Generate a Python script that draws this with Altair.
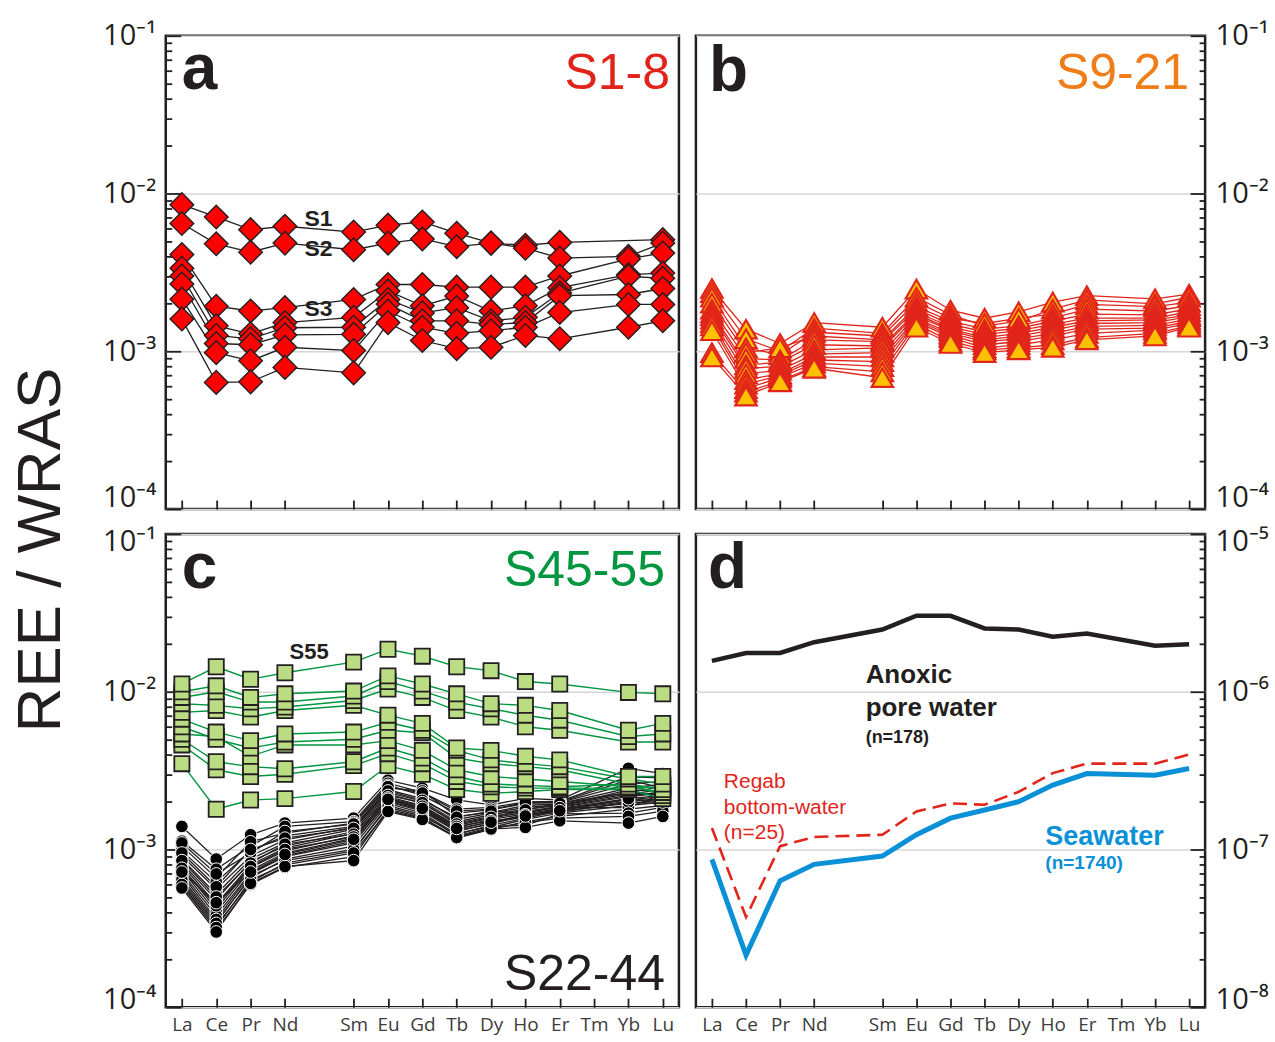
import altair as alt
import pandas as pd

# ---------------- categories ----------------
X_DOMAIN = ["La", "Ce", "Pr", "Nd", "Pm", "Sm", "Eu", "Gd", "Tb", "Dy", "Ho", "Er", "Tm", "Yb", "Lu"]
X_LABELS = ["La", "Ce", "Pr", "Nd", "Sm", "Eu", "Gd", "Tb", "Dy", "Ho", "Er", "Tm", "Yb", "Lu"]
REE = ["La", "Ce", "Pr", "Nd", "Sm", "Eu", "Gd", "Tb", "Dy", "Ho", "Er", "Yb", "Lu"]

# ---------------- panel a : S1-8 (values x 1e-3) ----------------
A_S1 = [8.5, 7.1, 5.9, 6.2, 5.7, 6.3, 6.6, 5.6, 4.85, 4.7, 4.9, None, 5.1]
A_S2 = [6.45, 4.8, 4.25, 4.85, 4.4, 4.85, 5.15, 4.6, 4.85, 4.5, 3.9, 4.0, 4.85]
A_S3 = [4.1, 1.93, 1.8, 1.89, 2.13, 2.65, 2.65, 2.55, 2.55, 2.55, 3.0, 3.85, 4.2]
A_S4 = [3.36, 1.45, 1.29, 1.52, 1.64, 2.41, 1.94, 2.24, 1.8, 1.94, 2.53, 3.06, 3.13]
A_S5 = [3.0, 1.26, 1.2, 1.41, 1.42, 2.13, 1.75, 1.89, 1.56, 1.64, 2.34, 2.99, 2.9]
A_S6 = [2.67, 1.12, 1.1, 1.27, 1.28, 1.99, 1.56, 1.56, 1.48, 1.52, 2.25, 2.29, 2.5]
A_S7 = [2.14, 0.98, 0.87, 1.06, 1.01, 1.8, 1.42, 1.3, 1.35, 1.42, 1.76, 1.98, 1.98]
A_S8 = [1.6, 0.635, 0.64, 0.79, 0.73, 1.52, 1.17, 1.04, 1.06, 1.26, 1.2, 1.42, 1.56]

# ---------------- panel b : S9-21 (values x 1e-3) ----------------
B_S9 = [2.50, 1.38, 1.12, 1.52, 1.42, 2.48, 1.82, 1.62, 1.78, 2.05, 2.25, 2.15, 2.30]
B_S10 = [2.35, 1.20, 1.00, 1.40, 1.30, 2.20, 1.70, 1.45, 1.55, 1.85, 2.12, 2.00, 2.20]
B_S11 = [2.20, 1.05, 0.95, 1.32, 1.25, 2.05, 1.62, 1.50, 1.62, 1.72, 1.98, 1.92, 2.05]
B_S12 = [2.02, 0.98, 1.05, 1.25, 1.18, 1.92, 1.55, 1.38, 1.45, 1.62, 1.85, 1.80, 1.95]
B_S13 = [1.85, 0.90, 0.88, 1.18, 1.15, 1.85, 1.48, 1.33, 1.40, 1.55, 1.72, 1.70, 1.86]
B_S14 = [1.75, 0.82, 0.85, 1.10, 1.08, 1.78, 1.42, 1.28, 1.35, 1.48, 1.62, 1.62, 1.78]
B_S15 = [1.68, 0.78, 0.80, 1.02, 1.05, 1.72, 1.38, 1.22, 1.30, 1.42, 1.56, 1.58, 1.70]
B_S16 = [1.60, 0.72, 0.76, 0.96, 0.98, 1.68, 1.35, 1.18, 1.25, 1.36, 1.50, 1.52, 1.66]
B_S17 = [1.52, 0.66, 0.72, 0.92, 0.92, 1.62, 1.30, 1.15, 1.20, 1.30, 1.44, 1.46, 1.60]
B_S18 = [1.45, 0.62, 0.70, 0.88, 0.86, 1.58, 1.26, 1.10, 1.15, 1.25, 1.38, 1.40, 1.55]
B_S19 = [1.35, 0.58, 0.68, 0.84, 0.80, 1.54, 1.22, 1.05, 1.10, 1.18, 1.30, 1.36, 1.50]
B_S20 = [0.98, 0.55, 0.65, 0.80, 0.74, 1.48, 1.16, 1.02, 1.05, 1.10, 1.22, 1.30, 1.45]
B_S21 = [0.92, 0.52, 0.64, 0.78, 0.68, 1.42, 1.12, 0.98, 1.02, 1.06, 1.18, 1.25, 1.42]

# ---------------- panel c : S45-55 green (values x 1e-3) ----------------
C_S55 = [11.2, 14.4, 12.0, 13.2, 15.4, 18.6, 16.8, 14.4, 13.6, 11.6, 11.2, 9.9, 9.7]
C_S54 = [10.0, 10.9, 9.2, 9.7, 10.1, 12.6, 11.2, 9.7, 8.4, 8.2, 7.6, 5.7, 6.3]
C_S53 = [9.2, 10.0, 8.6, 8.6, 9.4, 11.6, 10.1, 8.6, 7.8, 7.1, 6.6, 5.2, 5.4]
C_S52 = [8.4, 8.2, 7.8, 8.0, 8.8, 10.4, 9.2, 7.6, 6.9, 6.0, 5.7, 4.8, 4.8]
C_S51 = [7.4, 7.6, 6.9, 7.6, 8.2, 7.1, 6.3, 4.4, 4.25, 3.9, 3.7, 2.9, 2.9]
C_S50 = [6.7, 5.55, 4.9, 5.4, 5.55, 6.4, 5.7, 4.25, 3.7, 3.5, 3.35, 2.8, 2.6]
C_S49 = [6.0, 5.0, 4.4, 4.8, 5.0, 5.7, 5.5, 3.8, 3.5, 3.35, 3.2, 2.6, 2.4]
C_S48 = [5.4, 5.2, 3.9, 4.6, 4.6, 4.9, 4.25, 3.2, 2.9, 2.8, 2.7, 2.5, 2.3]
C_S47 = [5.0, 3.6, 3.35, 3.25, 3.6, 4.4, 3.8, 2.9, 2.6, 2.55, 2.5, 2.6, 2.2]
C_S46 = [4.6, 3.2, 2.9, 3.0, 3.4, 4.05, 3.5, 2.7, 2.5, 2.45, 2.45, 2.45, 2.5]
C_S45 = [3.5, 1.8, 2.06, 2.1, 2.33, 3.4, 3.0, 2.4, 2.27, 2.33, 2.4, 2.4, 2.1]

# ---------------- panel c : S22-44 black (values x 1e-3) ----------------
K_S22 = [1.40, 0.87, 1.24, 1.47, 1.58, 2.75, 2.45, 2.06, 1.92, 2.11, 2.06, 3.27, 3.03]
K_S23 = [1.13, 0.75, 1.05, 1.40, 1.50, 2.63, 2.30, 1.80, 1.85, 2.00, 2.02, 2.89, 2.85]
K_S24 = [1.05, 0.66, 1.12, 1.27, 1.47, 2.55, 2.20, 1.70, 1.78, 1.96, 1.98, 2.60, 2.70]
K_S25 = [0.98, 0.62, 0.98, 1.22, 1.40, 2.45, 2.35, 1.62, 1.72, 1.90, 1.95, 2.45, 2.60]
K_S26 = [0.91, 0.56, 0.91, 1.15, 1.38, 2.39, 2.10, 1.55, 1.70, 1.85, 1.92, 2.30, 2.50]
K_S27 = [0.87, 0.52, 0.87, 1.10, 1.34, 2.30, 2.02, 1.50, 1.66, 1.80, 1.90, 2.25, 2.39]
K_S28 = [0.82, 0.48, 0.84, 1.05, 1.30, 2.25, 1.96, 1.47, 1.62, 1.75, 1.87, 2.20, 2.30]
K_S29 = [0.80, 0.45, 0.80, 1.02, 1.27, 2.16, 1.90, 1.42, 1.58, 1.72, 1.85, 2.16, 2.28]
K_S30 = [0.77, 0.42, 0.77, 0.98, 1.22, 2.10, 1.85, 1.38, 1.55, 1.68, 1.82, 2.10, 2.20]
K_S31 = [0.74, 0.40, 0.74, 0.95, 1.18, 2.06, 1.80, 1.34, 1.50, 1.65, 1.80, 2.06, 2.16]
K_S32 = [0.71, 0.38, 0.71, 0.91, 1.13, 2.00, 1.75, 1.30, 1.47, 1.62, 1.78, 2.02, 2.10]
K_S33 = [0.66, 0.35, 0.66, 0.87, 1.05, 1.96, 1.70, 1.25, 1.42, 1.58, 1.75, 1.96, 2.06]
K_S34 = [0.62, 0.33, 0.62, 0.82, 0.98, 1.90, 1.66, 1.22, 1.38, 1.55, 1.70, 1.90, 2.00]
K_S35 = [0.59, 0.31, 0.60, 0.77, 0.90, 1.80, 1.60, 1.18, 1.34, 1.50, 1.62, 1.80, 1.90]
K_S36 = [1.10, 0.70, 0.95, 1.30, 1.45, 2.50, 2.28, 1.75, 1.80, 1.98, 2.00, 2.76, 2.45]
K_S37 = [0.95, 0.58, 1.00, 1.18, 1.36, 2.35, 2.05, 1.60, 1.75, 1.70, 1.88, 2.39, 2.35]
K_S38 = [0.85, 0.50, 0.82, 1.08, 1.25, 2.20, 1.98, 1.45, 1.60, 1.78, 1.96, 2.30, 2.20]
K_S39 = [0.76, 0.44, 0.78, 1.00, 1.20, 2.12, 1.88, 1.40, 1.52, 1.60, 1.84, 1.84, 2.25]
K_S40 = [0.69, 0.36, 0.70, 0.90, 1.10, 2.02, 1.78, 1.32, 1.45, 1.66, 1.72, 2.00, 1.95]
K_S41 = [0.64, 0.34, 0.68, 0.85, 1.00, 1.85, 1.62, 1.26, 1.40, 1.42, 1.68, 1.70, 1.85]
K_S42 = [0.60, 0.32, 0.64, 0.80, 0.95, 1.76, 1.58, 1.20, 1.36, 1.48, 1.58, 1.62, 1.75]
K_S43 = [0.57, 0.30, 0.61, 0.78, 0.85, 1.74, 1.55, 1.19, 1.35, 1.38, 1.52, 1.47, 1.62]
K_S44 = [0.72, 0.46, 0.72, 0.93, 1.16, 2.08, 1.82, 1.36, 1.49, 1.63, 1.76, 2.10, 2.00]

# ---------------- panel d (values x 1e-7) ----------------
D_PORE = [15.7, 17.6, 17.6, 20.6, 24.8, 30.3, 30.3, 25.2, 24.8, 22.3, 23.4, 19.6, 20.0]
D_REGAB = [1.37, 0.373, 1.05, 1.20, 1.24, 1.74, 1.96, 1.92, 2.32, 3.05, 3.50, 3.50, 4.00]
D_SEAWATER = [0.865, 0.214, 0.633, 0.805, 0.908, 1.24, 1.58, 1.78, 2.01, 2.56, 3.03, 2.96, 3.26]


def long_df(series, scale):
    rows = []
    for name, vals in series.items():
        for el, v in zip(REE, vals):
            if v is None:
                continue
            rows.append({"sample": name, "element": el,
                         "order": X_DOMAIN.index(el), "value": v * scale})
    return pd.DataFrame(rows)


dfa = long_df({"S1": A_S1, "S2": A_S2, "S3": A_S3, "S4": A_S4, "S5": A_S5,
               "S6": A_S6, "S7": A_S7, "S8": A_S8}, 1e-3)
dfb = long_df({"S9": B_S9, "S10": B_S10, "S11": B_S11, "S12": B_S12, "S13": B_S13,
               "S14": B_S14, "S15": B_S15, "S16": B_S16, "S17": B_S17, "S18": B_S18,
               "S19": B_S19, "S20": B_S20, "S21": B_S21}, 1e-3)
dfg = long_df({"S45": C_S45, "S46": C_S46, "S47": C_S47, "S48": C_S48, "S49": C_S49,
               "S50": C_S50, "S51": C_S51, "S52": C_S52, "S53": C_S53, "S54": C_S54,
               "S55": C_S55}, 1e-3)
dfk = long_df({"S22": K_S22, "S23": K_S23, "S24": K_S24, "S25": K_S25, "S26": K_S26,
               "S27": K_S27, "S28": K_S28, "S29": K_S29, "S30": K_S30, "S31": K_S31,
               "S32": K_S32, "S33": K_S33, "S34": K_S34, "S35": K_S35, "S36": K_S36,
               "S37": K_S37, "S38": K_S38, "S39": K_S39, "S40": K_S40, "S41": K_S41,
               "S42": K_S42, "S43": K_S43, "S44": K_S44}, 1e-3)
dfd_pore = long_df({"pore": D_PORE}, 1e-7)
dfd_regab = long_df({"regab": D_REGAB}, 1e-7)
dfd_sea = long_df({"sea": D_SEAWATER}, 1e-7)
ONE = pd.DataFrame({"k": [0]})

INK = "#231F20"
FONT = "Liberation Sans"
TICKFONT = "Open Sans"
W_L, W_R, H = 514, 510, 474
SUP = "['⁰','¹','²','³','⁴','⁵','⁶','⁷','⁸','⁹']"
MAJOR = "abs(log(datum.value)/LN10 - round(log(datum.value)/LN10)) < 0.001"


def decades(lo, hi):
    return [10.0 ** k for k in range(lo, hi + 1)]


def minor_ticks(lo, hi):
    vals = []
    for k in range(lo, hi):
        for m in range(1, 10):
            vals.append(m * 10.0 ** k)
    vals.append(10.0 ** hi)
    return vals


def make_panel(layers_fn, texts, exps, side, show_x, w, top_off, bot_off):
    lo, hi = exps
    ydom = [10.0 ** lo, 10.0 ** hi]
    xs = alt.Scale(domain=X_DOMAIN, padding=0.47)
    ys = alt.Scale(type="log", domain=ydom, nice=False)

    ylab = alt.Axis(
        orient=side, values=decades(lo, hi), grid=True, gridColor="#D6D6D6", gridWidth=1.6,
        ticks=False, domain=False, title=None,
        labelExpr="'10⁻' + " + SUP + "[-round(log(datum.value)/LN10)]",
        labelFont=TICKFONT, labelFontSize=29, labelColor=INK, labelPadding=10,
        labelBaseline="middle", labelFlush=False,
        labelOffset={"condition": [
            {"test": f"datum.value > {ydom[1] * 0.5}", "value": top_off},
            {"test": f"datum.value < {ydom[0] * 2}", "value": bot_off}], "value": 0},
    )
    ytick = alt.Axis(
        orient=("right" if side == "left" else "left"), offset=-w,
        values=minor_ticks(lo, hi), labels=False, grid=False, domain=False, title=None,
        ticks=True, tickColor=INK, tickWidth=1.8,
        tickSize={"condition": {"test": MAJOR, "value": 15}, "value": 6},
    )
    xlab = alt.Axis(
        orient="bottom", values=X_LABELS, ticks=False, domain=False, grid=False, title=None,
        labelFont=TICKFONT, labelFontSize=19, labelColor="#3C3C3C", labelPadding=8, labelAngle=0,
    ) if show_x else None
    xtick = alt.Axis(
        orient="top", offset=-H, values=X_LABELS, labels=False, grid=False, domain=False,
        title=None, ticks=True, tickSize=9, tickColor=INK, tickWidth=1.8,
    )

    def enc(ax_x=None, ax_y=None):
        return dict(x=alt.X("element:N", scale=xs, axis=ax_x),
                    y=alt.Y("value:Q", scale=ys, axis=ax_y))

    data_layers, carrier_df = layers_fn(enc)
    carrier1 = alt.Chart(carrier_df).mark_point(opacity=0).encode(**enc(xlab, ylab))
    carrier2 = alt.Chart(carrier_df).mark_point(opacity=0).encode(**enc(xtick, ytick))
    return (alt.layer(carrier1, *data_layers, carrier2, *texts)
            .resolve_axis(x="independent", y="independent")
            .properties(width=w, height=H))


def line_layer(df, enc, color, width, dash=None):
    kw = dict(color=color, strokeWidth=width)
    if dash:
        kw["strokeDash"] = dash
    return alt.Chart(df).mark_line(**kw).encode(detail="sample:N", order="order:Q", **enc())


def point_layer(df, enc, shape, size, fill, stroke, sw):
    return alt.Chart(df).mark_point(shape=shape, size=size, filled=True, fill=fill,
                                    stroke=stroke, strokeWidth=sw, opacity=1,
                                    fillOpacity=1).encode(detail="sample:N", **enc())


def txt(s, x, y, size, color=INK, weight="bold", align="left"):
    return alt.Chart(ONE).mark_text(text=s, fontSize=size, font=FONT, fontWeight=weight,
                                    color=color, align=align, baseline="alphabetic"
                                    ).encode(x=alt.value(x), y=alt.value(y))


def layers_a(enc):
    return [line_layer(dfa, enc, INK, 1.3),
            point_layer(dfa, enc, "diamond", 560, "#FF0000", INK, 1.4)], dfa


def layers_b(enc):
    return [line_layer(dfb, enc, "#E1251B", 1.3),
            point_layer(dfb, enc, "triangle-up", 460, "#FFC000", "#E1251B", 2.2)], dfb


def layers_c(enc):
    return [line_layer(dfk, enc, INK, 1.3),
            point_layer(dfk, enc, "circle", 160, "#000000", "#FFFFFF", 1.0),
            line_layer(dfg, enc, "#00963F", 1.4),
            point_layer(dfg, enc, "square", 230, "#BADD84", INK, 1.8)], dfk


def layers_d(enc):
    return [line_layer(dfd_pore, enc, INK, 4.5),
            line_layer(dfd_regab, enc, "#E1251B", 2.6, [14, 7]),
            line_layer(dfd_sea, enc, "#0A90D6", 5.0)], dfd_pore


pa = make_panel(layers_a, [
    txt("a", 16, 53, 64),
    txt("S1-8", 505, 53, 50, color="#E2231A", weight="normal", align="right"),
    txt("S1", 139, 191, 23),
    txt("S2", 139, 221, 23),
    txt("S3", 139, 281, 23),
], (-4, -1), "left", False, W_L, 0, -12)

pb = make_panel(layers_b, [
    txt("b", 13, 55, 64),
    txt("S9-21", 494, 53, 50, color="#EE7D1A", weight="normal", align="right"),
], (-4, -1), "right", False, W_R, 0, -12)

pc = make_panel(layers_c, [
    txt("c", 16, 54, 64),
    txt("S45-55", 500, 52, 50, color="#00963F", weight="normal", align="right"),
    txt("S22-44", 500, 457, 50, color=INK, weight="normal", align="right"),
    txt("S55", 124, 125, 22),
], (-4, -1), "left", True, W_L, 8, -8)

pd_ = make_panel(layers_d, [
    txt("d", 12, 54, 64),
    txt("Anoxic", 170, 149, 26),
    txt("pore water", 170, 182, 26),
    txt("(n=178)", 170, 209, 18),
    txt("Regab", 28, 254, 21, color="#E1251B", weight="normal"),
    txt("bottom-water", 28, 280, 21, color="#E1251B", weight="normal"),
    txt("(n=25)", 28, 305, 21, color="#E1251B", weight="normal"),
    txt("Seawater", 350, 312, 27, color="#0A90D6"),
    txt("(n=1740)", 350, 336, 19, color="#0A90D6"),
], (-8, -5), "right", True, W_R, 8, -8)

chart = alt.concat(pa, pb, pc, pd_, columns=2,
                   spacing={"row": 25, "column": 17}, bounds="flush").properties(
    title=alt.TitleParams(text="REE / WRAS", orient="left", anchor="middle", fontSize=62,
                          font=FONT, fontWeight="normal", color=INK, offset=28, dx=-22),
    padding={"left": 10, "top": 19, "right": 5, "bottom": 5},
).configure(background="white").configure_view(stroke=INK, strokeWidth=2.5)

chart.save("out.html", embed_options={"renderer": "svg", "actions": False})
